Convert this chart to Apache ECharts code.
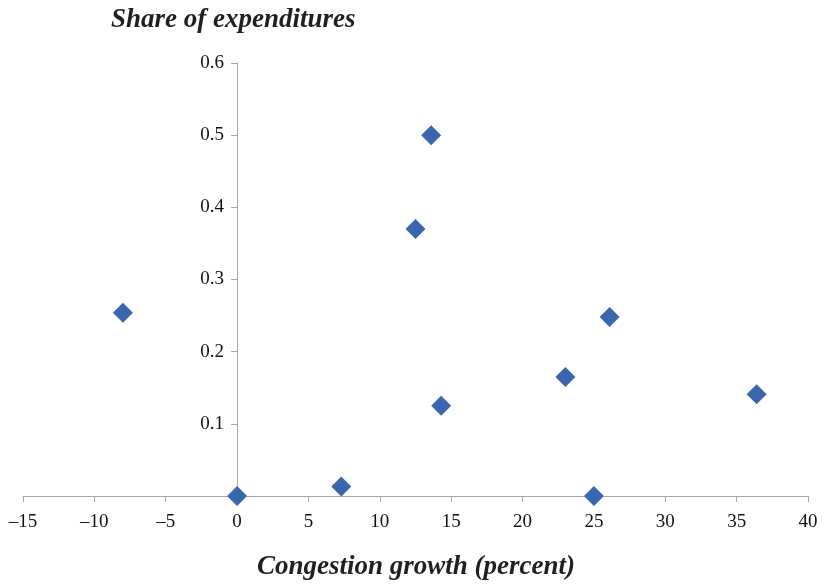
<!DOCTYPE html>
<html>
<head>
<meta charset="utf-8">
<script src="https://cdn.jsdelivr.net/npm/echarts@6/dist/echarts.min.js"></script>
<style>
html,body{margin:0;padding:0;background:#fff;}
#main{width:825px;height:585px;}
</style>
</head>
<body>
<div id="main"></div>
<script>
// congestion growth (percent) vs share of expenditures
var growth = [-8, 0, 7.3, 12.5, 13.6, 14.3, 23, 25, 26.1, 36.4];
var share  = [0.254, 0, 0.013, 0.37, 0.5, 0.125, 0.165, 0, 0.248, 0.141];
var xTitle = 'Congestion growth (percent)';
var yTitle = 'Share of expenditures';

var points = [];
for (var i = 0; i < growth.length; i++) {
	points.push([growth[i], share[i]]);
}

var gridLeft = 23, gridRight = 17, xMin = -15, xMax = 40;
// y axis sits on x = 0, so shift it in from the left edge
var plotW = 825 - gridLeft - gridRight;
var yOffset = -Math.round((0 - xMin) / (xMax - xMin) * plotW);

var myChart = echarts.init(document.getElementById('main'));
var labelFont = 'Liberation Serif';

myChart.setOption({
	animation: false,
	grid: {left: gridLeft, right: gridRight, top: 63, bottom: 89, outerBoundsMode: 'none', containLabel: false},
	xAxis: {
		type: 'value',
		min: xMin, max: xMax, interval: 5,
		splitLine: {show: false},
		axisLine: {onZero: false, lineStyle: {color: '#a6a6a6', width: 1}},
		axisTick: {show: true, length: 6, lineStyle: {color: '#a6a6a6'}},
		axisLabel: {
			margin: 17,
			fontFamily: labelFont, fontSize: 19, color: '#111',
			formatter: function (v) { return String(v).replace('-', '\u2013'); }
		}
	},
	yAxis: {
		type: 'value',
		min: 0, max: 0.6, interval: 0.1,
		offset: yOffset,
		splitLine: {show: false},
		axisLine: {onZero: false, lineStyle: {color: '#a6a6a6', width: 1}},
		axisTick: {show: true, length: 6, lineStyle: {color: '#a6a6a6'}},
		axisLabel: {
			margin: 13,
			fontFamily: labelFont, fontSize: 19, color: '#111',
			formatter: function (v) { return v === 0 ? '' : v.toFixed(1); }
		}
	},
	graphic: [
		{
			type: 'text', left: 111, top: 7,
			style: {text: yTitle, font: 'italic bold 27px "Liberation Serif"', fill: '#231f20'}
		},
		{
			type: 'text', left: 257, top: 554,
			style: {text: xTitle, font: 'italic bold 27px "Liberation Serif"', fill: '#231f20'}
		}
	],
	series: [{
		type: 'scatter',
		symbol: 'diamond',
		symbolSize: 20,
		itemStyle: {color: '#3a66b0', opacity: 1},
		data: points
	}]
});
</script>
</body>
</html>
